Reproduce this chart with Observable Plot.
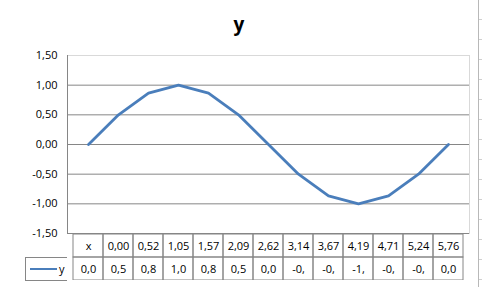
<!DOCTYPE html>
<html>
<head>
<meta charset="utf-8">
<script src="https://cdn.jsdelivr.net/npm/d3@7"></script>
<script src="https://cdn.jsdelivr.net/npm/@observablehq/plot@0.6"></script>
<style>
  body { margin: 0; background: #fff; }
  #wrap { position: relative; width: 482px; height: 287px; overflow: hidden; font-family: "Open Sans", sans-serif; }
  #title { position: absolute; top: 11px; left: 0; width: 478px; text-align: center; font-weight: bold; font-size: 19px; color: #000; }
  #chart, #table { position: absolute; left: 0; }
  #chart { top: 0; }
  #table { top: 233px; }
  #legend { position: absolute; left: 25px; top: 257px; width: 41px; height: 22px; border: 1px solid #868686; border-right: none; background: #fff; font-size: 11px; }
  #legend .sw { position: absolute; left: 4px; top: 10px; width: 27px; height: 2px; background: #4a7ebb; }
  #legend .lb { position: absolute; left: 33px; top: 3px; }
  #edge { position: absolute; left: 478px; top: 0; width: 4px; height: 287px; border-left: 1px solid #b8b8b8;
          background: repeating-linear-gradient(to bottom, transparent 0 19px, #d0d0d0 19px 20px); }
</style>
</head>
<body>
<div id="wrap">
  <div id="edge"></div>
  <div id="title">y</div>
  <div id="chart"></div>
  <div id="table"></div>
  <div id="legend"><div class="sw"></div><div class="lb">y</div></div>
</div>
<script>
const categories = ["x", "0,00", "0,52", "1,05", "1,57", "2,09", "2,62", "3,14", "3,67", "4,19", "4,71", "5,24", "5,76"];
const yValues = [0, 0.5, 0.866, 1, 0.866, 0.5, 0, -0.5, -0.866, -1, -0.866, -0.5, 0];
const yTicks = [-1.5, -1, -0.5, 0, 0.5, 1, 1.5];
const seriesName = "y";

const fmt2 = v => d3.format(".2f")(v).replace("−", "-").replace(".", ",");
const cellText = v => fmt2(v).slice(0, 3);

const data = categories.map((c, i) => ({cat: c, val: yValues[i]}));

const chart = Plot.plot({
  width: 482, height: 233,
  marginTop: 55, marginBottom: 0, marginLeft: 67, marginRight: 13,
  style: {overflow: "visible", fontFamily: "Open Sans, sans-serif", fontSize: "11px", color: "#000"},
  x: {type: "band", domain: categories, padding: 0, axis: null},
  y: {domain: [-1.5, 1.5], ticks: yTicks, tickFormat: fmt2, tickSize: 0, tickPadding: 10, label: null},
  marks: [
    Plot.frame({stroke: "#d9d9d9"}),
    Plot.ruleY(yTicks.filter(t => t < 1.5), {stroke: "#868686"}),
    Plot.frame({anchor: "left", stroke: "#868686"}),
    Plot.line(data, {x: "cat", y: "val", stroke: "#4a7ebb", strokeWidth: 2.8})
  ]
});
document.getElementById("chart").appendChild(chart);

const rows = [];
categories.forEach((c, i) => {
  rows.push({cat: c, row: "x", label: c});
  rows.push({cat: c, row: seriesName, label: cellText(yValues[i])});
});

const table = Plot.plot({
  width: 482, height: 47,
  marginTop: 0, marginBottom: 0, marginLeft: 67, marginRight: 13,
  style: {fontFamily: "Open Sans, sans-serif", fontSize: "11px", color: "#000"},
  x: {type: "band", domain: categories, padding: 0, axis: null},
  y: {type: "band", domain: ["x", seriesName], padding: 0, axis: null},
  marks: [
    Plot.cell(rows, {x: "cat", y: "row", fill: "none", stroke: "#868686"}),
    Plot.text(rows, {x: "cat", y: "row", text: "label", fill: "#000"})
  ]
});
document.getElementById("table").appendChild(table);
</script>
</body>
</html>
